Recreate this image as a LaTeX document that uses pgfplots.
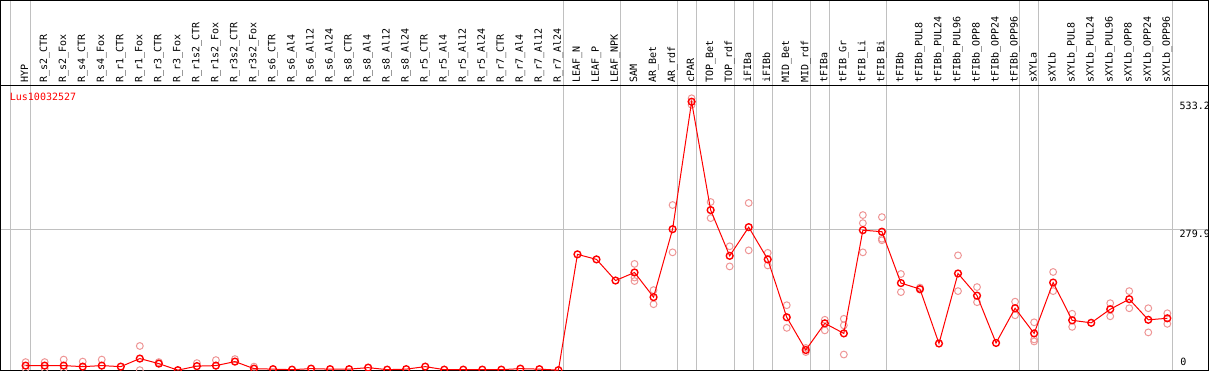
\documentclass[border=0pt]{standalone}
\usepackage{pgfplots}
\usepackage{pgfplotstable}
\pgfplotsset{compat=1.18}
\usepackage{fontspec}
\newfontfamily\monofnt{DejaVu Sans Mono}
\newcommand\labfont{\monofnt\fontsize{10bp}{12bp}\selectfont}
\definecolor{gridgray}{RGB}{192,192,192}
\definecolor{meanred}{RGB}{255,0,0}
\definecolor{reppink}{RGB}{238,150,150}

\pgfplotstableread{
x v
0 9
1 9
2 9
3 7
4 9
5 7
6 23
7 13
8 0
9 8
10 9
11 17
12 3
13 2
14 1
15 3
16 2
17 2
18 5
19 1
20 2
21 7
22 1
23 1
24 1
25 1
26 3
27 2
28 0
29 230
30 220
31 178
32 194
33 145
34 280
35 533.2
36 318
37 227
38 284
39 220
40 105
41 40
42 93
43 73
44 278
45 275
46 173
47 161
48 53
49 192
50 148
51 54
52 123
53 73
54 174
55 99
56 94
57 121
58 141
59 100
60 103
}\meantab

\pgfplotstableread{
x v
0 16
0 3
1 16
1 3
2 21
2 3
3 17
4 21
6 48
6 0
7 16
9 14
10 20
11 22
12 7
32 211
32 184
32 177
33 159
33 131
34 328
34 234
35 540
35 527
36 334
36 302
37 246
37 206
38 332
38 238
39 233
39 208
40 129
40 84
41 44
41 36
42 100
42 79
43 102
43 89
43 31
44 308
44 292
44 234
45 304
45 261
45 258
46 191
46 155
47 164
47 160
49 228
49 157
50 165
50 135
52 136
52 109
53 95
53 61
53 57
54 195
54 157
55 112
55 86
57 133
57 107
58 157
58 123
59 123
59 75
60 113
60 92
}\reptab

\begin{document}
\begin{tikzpicture}
\begin{axis}[
  scale only axis,
  width=1206bp, height=369bp,
  xmin=-1.316, xmax=62.16,
  ymin=0, ymax=734,
  axis line style={black, line width=1.2bp},
  xtick=\empty, ytick=\empty,
  clip marker paths=true,
]
% gray separators
\pgfplotsinvokeforeach{-0.805,0.25,28.25,31.25,34.25,35.25,37.25,38.25,39.25,41.25,42.25,45.25,52.25,53.25,60.25}{
  \draw[gridgray, line width=1bp] (axis cs:#1,0) -- (axis cs:#1,734);
}
\draw[gridgray, line width=1bp] (axis cs:-1.316,279.9) -- (axis cs:62.16,279.9);
\draw[black, line width=1.2bp] (axis cs:-1.316,565) -- (axis cs:62.16,565);

% replicates
\addplot[only marks, mark=o, mark size=3.4bp, mark options={draw=reppink, line width=1bp}]
  table[x=x, y=v] {\reptab};
% means
\addplot[meanred, line width=1bp, mark=o, mark size=3.4bp, mark options={draw=meanred, line width=1.4bp}]
  table[x=x, y=v] {\meantab};

% category labels
\addplot[draw=none, mark=none, nodes near coords, point meta=explicit symbolic,
  nodes near coords style={rotate=90, anchor=base west, inner sep=0pt, font=\labfont, text=black}]
coordinates {
(0.13,570) [HYP]
(1.13,570) [R\_s2\_CTR]
(2.13,570) [R\_s2\_Fox]
(3.13,570) [R\_s4\_CTR]
(4.13,570) [R\_s4\_Fox]
(5.13,570) [R\_r1\_CTR]
(6.13,570) [R\_r1\_Fox]
(7.13,570) [R\_r3\_CTR]
(8.13,570) [R\_r3\_Fox]
(9.13,570) [R\_r1s2\_CTR]
(10.13,570) [R\_r1s2\_Fox]
(11.13,570) [R\_r3s2\_CTR]
(12.13,570) [R\_r3s2\_Fox]
(13.13,570) [R\_s6\_CTR]
(14.13,570) [R\_s6\_Al4]
(15.13,570) [R\_s6\_Al12]
(16.13,570) [R\_s6\_Al24]
(17.13,570) [R\_s8\_CTR]
(18.13,570) [R\_s8\_Al4]
(19.13,570) [R\_s8\_Al12]
(20.13,570) [R\_s8\_Al24]
(21.13,570) [R\_r5\_CTR]
(22.13,570) [R\_r5\_Al4]
(23.13,570) [R\_r5\_Al12]
(24.13,570) [R\_r5\_Al24]
(25.13,570) [R\_r7\_CTR]
(26.13,570) [R\_r7\_Al4]
(27.13,570) [R\_r7\_Al12]
(28.13,570) [R\_r7\_Al24]
(29.13,570) [LEAF\_N]
(30.13,570) [LEAF\_P]
(31.13,570) [LEAF\_NPK]
(32.13,570) [SAM]
(33.13,570) [AR\_Bet]
(34.13,570) [AR\_rdf]
(35.13,570) [cPAR]
(36.13,570) [TOP\_Bet]
(37.13,570) [TOP\_rdf]
(38.13,570) [iFIBa]
(39.13,570) [iFIBb]
(40.13,570) [MID\_Bet]
(41.13,570) [MID\_rdf]
(42.13,570) [tFIBa]
(43.13,570) [tFIB\_Gr]
(44.13,570) [tFIB\_Li]
(45.13,570) [tFIB\_Bi]
(46.13,570) [tFIBb]
(47.13,570) [tFIBb\_PUL8]
(48.13,570) [tFIBb\_PUL24]
(49.13,570) [tFIBb\_PUL96]
(50.13,570) [tFIBb\_OPP8]
(51.13,570) [tFIBb\_OPP24]
(52.13,570) [tFIBb\_OPP96]
(53.13,570) [sXYLa]
(54.13,570) [sXYLb]
(55.13,570) [sXYLb\_PUL8]
(56.13,570) [sXYLb\_PUL24]
(57.13,570) [sXYLb\_PUL96]
(58.13,570) [sXYLb\_OPP8]
(59.13,570) [sXYLb\_OPP24]
(60.13,570) [sXYLb\_OPP96]
};

% texts
\node[anchor=north west, inner sep=0pt, font=\labfont, text=meanred] at (axis cs:-0.84,551) {Lus10032527};
\node[anchor=north west, inner sep=0pt, font=\labfont] at (axis cs:60.64,532) {533.2};
\node[anchor=north west, inner sep=0pt, font=\labfont] at (axis cs:60.64,279) {279.9};
\node[anchor=south west, inner sep=0pt, font=\labfont] at (axis cs:60.68,8) {0};
\end{axis}
\end{tikzpicture}
\end{document}
